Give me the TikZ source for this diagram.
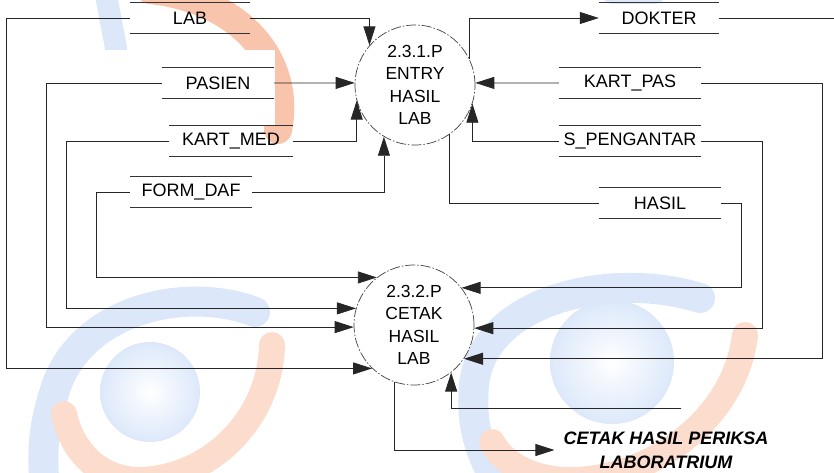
\documentclass[tikz,border=0pt]{standalone}
\usepackage{fontspec}
\setmainfont{Liberation Sans}
\usetikzlibrary{arrows.meta}
\definecolor{wmblue}{HTML}{DCE8FA}
\definecolor{wmorange}{HTML}{FBDCCD}
\definecolor{wmorangeb}{HTML}{F9C4AC}
\begin{document}
\begin{tikzpicture}[x=1pt,y=-1pt,
  proc/.style={circle, draw=black!75, line width=0.7pt,
    dash pattern=on 10pt off 2pt on 1.5pt off 2pt,
    minimum size=120pt, inner sep=0pt, align=center,
    font=\fontsize{17.5}{22.5}\selectfont},
  store/.style={minimum height=31pt, inner sep=0pt,
    font=\fontsize{18}{20}\selectfont},
  sline/.style={draw=black!80, line width=0.7pt},
  flow/.style={draw=black!85, line width=0.8pt},
  arr/.style={flow, -{Triangle[length=19pt,width=12pt]}},
  wm/.style={line cap=round},
]
\useasboundingbox (0,0) rectangle (834,472);
% ---- watermark ----
\begin{scope}
  \clip (0,0) rectangle (834,472);
  % top left
  \draw[wm, wmblue, line width=22pt] (105,-10) -- (116,48);
  \draw[wm, wmorangeb, line width=28pt] (150,-10) .. controls (240,0) and (292,60) .. (278,130);
  \fill[white] (90,50) rectangle (275,125);
  % bottom left
  \shade[inner color=white, outer color=wmblue] (150,392) circle[radius=50];
  \draw[wm, wmblue, line width=30pt] (255,312) .. controls (185,285) and (80,310) .. (55,390) .. controls (42,430) and (42,455) .. (45,490);
  \draw[wm, wmorange, line width=26pt] (272,345) .. controls (270,420) and (210,478) .. (140,480) .. controls (100,480) and (72,452) .. (64,414);
  % bottom right
  \shade[inner color=white, outer color=wmblue] (612,362) circle[radius=62];
  \draw[wm, wmblue, line width=30pt] (700,298) .. controls (610,270) and (482,300) .. (474,385) .. controls (470,430) and (482,455) .. (500,490);
  \draw[wm, wmorange, line width=26pt] (745,335) .. controls (735,420) and (650,480) .. (570,480) .. controls (530,480) and (502,462) .. (492,442);
  % top right
  \draw[wm, wmblue, line width=20pt] (612,-6) -- (655,-6);
\end{scope}
% ---- processes ----
\node[proc] (c1) at (415,85) {2.3.1.P\\ENTRY\\HASIL\\LAB};
\node[proc] (c2) at (414,325) {2.3.2.P\\CETAK\\HASIL\\LAB};
% ---- data stores ----
\node[store, minimum width=120pt] (lab)     at (190,18)  {LAB};
\node[store, minimum width=112pt] (pasien)  at (218,83)  {PASIEN};
\node[store, minimum width=123pt] (kartmed) at (231,141) {KART\_MED};
\node[store, minimum width=122pt] (formdaf) at (191,192) {FORM\_DAF};
\node[store, minimum width=120pt] (dokter)  at (659,18)  {DOKTER};
\node[store, minimum width=142pt] (kartpas) at (630,83)  {KART\_PAS};
\node[store, minimum width=142pt] (speng)   at (630,141) {S\_PENGANTAR};
\node[store, minimum width=122pt] (hasil)   at (660,203) {HASIL};
\foreach \s in {lab,pasien,kartmed,formdaf,dokter,kartpas,speng,hasil}
  \draw[sline] (\s.north west) -- (\s.north east) (\s.south west) -- (\s.south east);
% ---- output text ----
\node[font=\bfseries\itshape\fontsize{18}{24}\selectfont, align=center, inner sep=9pt]
  (out) at (666,450) {CETAK HASIL PERIKSA\\LABORATRIUM};
\coordinate (dokend) at (834,18);
\coordinate (srcR) at (681,408);
% ---- flows ----
\draw[arr] (lab.east) -| (c1.139);
\draw[arr] (lab.west) -- ++(-123,0) |- (c2.226);
\draw[arr] (pasien.east) -- (c1.178);
\draw[arr] (pasien.west) -- ++(-115,0) |- (c2.182);
\draw[arr] (kartmed.east) -| (c1.195);
\draw[arr] (kartmed.west) -- ++(-103,0) |- (c2.164);
\draw[arr] (formdaf.east) -| (c1.239);
\draw[arr] (formdaf.west) -- ++(-33,0) |- (c2.128);
\draw[arr] (c1.26) |- (dokter.west);
\draw[flow] (dokter.east) -- (dokend);
\draw[arr] (kartpas.west) -- (c1.2);
\draw[arr] (kartpas.east) -- ++(121,0) |- (c2.326);
\draw[arr] (speng.west) -| (c1.342);
\draw[arr] (speng.east) -- ++(61,0) |- (c2.357);
\draw[flow] (c1.305) |- (hasil.west);
\draw[arr] (hasil.east) -- ++(20,0) |- (c2.38);
\draw[arr] (srcR) -| (c2.308);
\draw[arr] (c2.251) |- (out.west);
\end{tikzpicture}
\end{document}
